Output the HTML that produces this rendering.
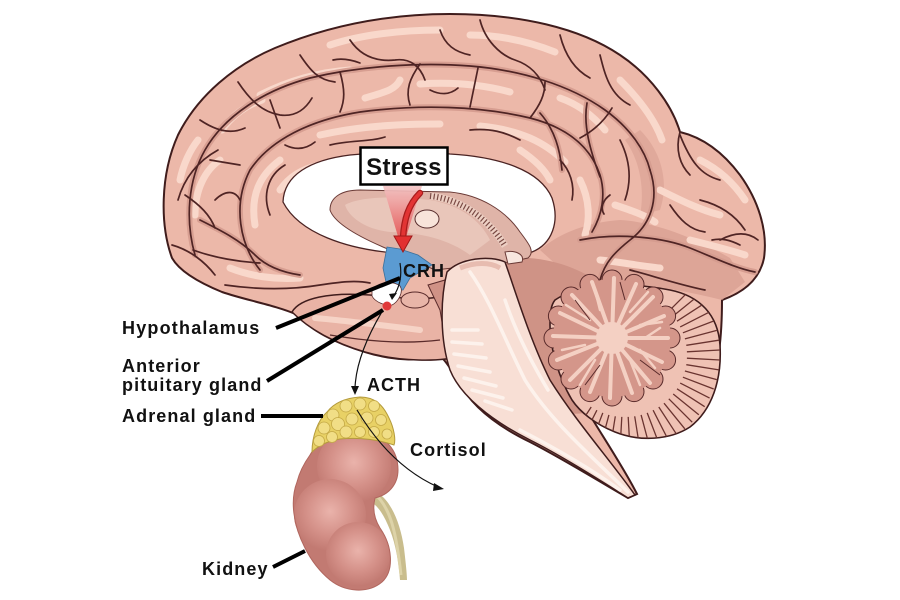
<!DOCTYPE html>
<html><head><meta charset="utf-8"><style>
html,body{margin:0;padding:0;background:#fff;}
svg{display:block;}
text{font-family:"Liberation Sans",Arial,sans-serif;font-weight:bold;fill:#111;}
</style></head><body>
<svg width="900" height="600" viewBox="0 0 900 600" xmlns="http://www.w3.org/2000/svg">
<defs>
<linearGradient id="stressG" x1="0" y1="0" x2="0" y2="1">
<stop offset="0" stop-color="#f4c4c4" stop-opacity="0.9"/>
<stop offset="1" stop-color="#e03a3a" stop-opacity="0.95"/>
</linearGradient>
<radialGradient id="lobe" cx="0.5" cy="0.45" r="0.55">
<stop offset="0" stop-color="#eab3ab"/>
<stop offset="0.6" stop-color="#d49088"/>
<stop offset="1" stop-color="#c27a72"/>
</radialGradient>
<clipPath id="cbClip"><path d="M 555,300 C 580,283 630,282 670,290 C 700,296 718,315 720,345 C 722,380 712,410 690,427 C 670,440 640,442 615,432 C 595,424 580,412 572,400 C 560,380 550,350 550,325 C 550,312 551,305 555,300 Z"/></clipPath>
</defs>

<!-- brain silhouette -->
<path d="M 172,258 C 160,225 160,175 178,135 C 198,95 235,65 275,48 C 330,25 390,14 450,14 C 520,14 580,28 620,55 C 650,75 672,105 680,132 C 705,138 725,155 740,175 C 758,200 768,230 764,258 C 760,278 745,292 722,300 C 722,330 720,370 705,405 C 690,428 665,438 640,436 C 615,433 598,420 588,412 C 605,440 625,470 637,494 L 628,498 C 600,482 565,460 530,442 C 495,425 470,405 458,380 C 450,368 445,360 440,356 C 420,362 390,360 365,352 C 335,343 310,330 298,315 C 275,305 245,300 222,292 C 200,283 180,272 172,258 Z" fill="#ecb8a9" stroke="#3f1c1c" stroke-width="2"/>

<!-- darker occipital / base shading -->
<path d="M 540,250 C 560,232 590,222 620,220 C 655,222 695,238 730,258 L 745,282 L 722,300 C 690,292 640,282 600,283 L 560,268 Z" fill="#dba194" opacity="0.85"/>
<path d="M 505,258 C 540,255 575,265 600,283 L 560,300 C 550,330 555,370 575,405 L 588,412 C 560,420 530,400 510,370 Z" fill="#cf9386"/>
<path d="M 640,130 C 660,150 670,180 660,210 L 640,215 C 645,190 640,160 625,140 Z" fill="#dca295" opacity="0.7"/>

<!-- gyri highlights -->
<g fill="none" stroke="#f9d8cb" stroke-width="7" stroke-linecap="round">
<path d="M 195,215 C 195,190 205,170 220,160"/>
<path d="M 260,95 C 290,80 320,72 350,70"/>
<path d="M 420,84 C 450,82 480,84 510,92"/>
<path d="M 560,98 C 580,105 595,118 605,130"/>
<path d="M 255,225 C 250,195 260,175 280,160"/>
<path d="M 320,135 C 360,126 400,124 440,124"/>
<path d="M 480,126 C 520,130 545,142 565,162"/>
<path d="M 660,190 C 680,200 700,210 720,215"/>
<path d="M 222,130 C 232,115 247,105 262,100"/>
<path d="M 470,35 C 500,35 530,42 555,52"/>
<path d="M 330,45 C 360,35 400,30 440,30"/>
<path d="M 690,240 C 710,245 730,250 745,255"/>
<path d="M 230,268 C 250,276 275,280 300,278"/>
<path d="M 180,180 C 183,165 190,150 198,140"/>
<path d="M 620,80 C 640,100 655,120 662,140"/>
<path d="M 700,160 C 720,170 735,185 745,200"/>
<path d="M 580,180 C 590,200 590,220 585,235"/>
<path d="M 280,190 C 290,175 305,168 320,165"/>
<path d="M 520,150 C 535,160 545,170 550,180"/>
<path d="M 365,98 C 385,92 395,90 400,80"/>
<path d="M 615,205 C 630,210 645,215 655,222"/>
<path d="M 600,260 C 620,262 640,266 660,268"/>
</g>

<!-- sulci shading -->
<g fill="none" stroke="#d59c8f" stroke-width="6" stroke-linecap="round" opacity="0.9">
<path d="M 260,270 C 240,245 232,205 250,170 C 270,140 310,120 360,112 C 420,104 480,106 530,118 C 565,127 590,145 600,175 C 606,195 602,215 592,232"/>
<path d="M 195,255 C 185,220 188,180 205,150 C 225,115 265,90 310,78 C 360,66 420,62 470,66 C 520,70 570,85 605,110 C 630,128 645,150 650,170"/>
<path d="M 650,170 C 660,200 650,225 630,240 C 615,252 605,262 600,280"/>
<path d="M 580,240 C 620,232 665,238 690,248 C 715,258 735,268 755,272"/>
<path d="M 200,220 C 220,230 240,240 255,255 C 265,265 280,272 300,275"/>
<path d="M 540,113 C 555,130 560,150 562,170"/>
<path d="M 587,103 C 583,125 590,150 600,177"/>
</g>

<!-- sulci lines -->
<g fill="none" stroke="#4f2424" stroke-width="1.7" stroke-linecap="round">
<path d="M 178,200 C 185,175 200,160 218,150"/>
<path d="M 200,120 C 215,130 230,135 245,128"/>
<path d="M 238,82 C 250,100 262,112 280,115 C 295,117 305,110 312,98"/>
<path d="M 300,55 C 310,70 318,80 335,82"/>
<path d="M 350,40 C 360,55 375,62 395,60 C 410,58 420,66 425,80"/>
<path d="M 440,30 C 445,45 455,52 470,55"/>
<path d="M 480,20 C 485,40 500,55 515,60 C 530,65 540,75 545,90"/>
<path d="M 560,35 C 565,55 575,70 590,78"/>
<path d="M 600,55 C 605,75 610,95 630,105"/>
<path d="M 260,270 C 240,245 232,205 250,170 C 270,140 310,120 360,112 C 420,104 480,106 530,118 C 565,127 590,145 600,175 C 606,195 602,215 592,232"/>
<path d="M 195,255 C 185,220 188,180 205,150 C 225,115 265,90 310,78 C 360,66 420,62 470,66 C 520,70 570,85 605,110 C 630,128 645,150 650,170"/>
<path d="M 215,200 C 225,190 235,190 240,200"/>
<path d="M 240,165 L 210,160"/>
<path d="M 280,128 L 270,100"/>
<path d="M 340,112 C 345,100 345,90 340,72"/>
<path d="M 410,105 C 405,90 410,78 420,64"/>
<path d="M 470,107 L 478,68"/>
<path d="M 530,118 C 540,105 545,95 545,82"/>
<path d="M 580,138 C 595,130 605,120 612,108"/>
<path d="M 270,215 C 262,195 268,175 285,165"/>
<path d="M 330,145 C 350,140 370,142 385,137"/>
<path d="M 470,130 C 490,128 505,132 520,140"/>
<path d="M 560,160 C 570,170 575,185 572,200"/>
<path d="M 650,170 C 660,200 650,225 630,240 C 615,252 605,262 600,280"/>
<path d="M 680,135 C 690,160 700,175 720,180"/>
<path d="M 700,200 C 720,205 735,215 745,230"/>
<path d="M 580,240 C 620,232 665,238 690,248 C 715,258 735,268 755,272"/>
<path d="M 670,205 C 680,220 690,230 705,232"/>
<path d="M 630,270 C 650,275 680,285 705,290"/>
<path d="M 620,140 C 630,160 632,180 625,200"/>
<path d="M 172,245 C 190,250 205,262 215,275"/>
<path d="M 200,220 C 220,230 240,240 255,255 C 265,265 280,272 300,275"/>
<path d="M 225,285 C 260,290 290,290 320,285 C 340,282 355,280 370,283"/>
<path d="M 185,195 C 200,205 210,215 215,228"/>
<path d="M 680,132 C 675,150 680,165 690,175"/>
<path d="M 720,240 C 735,232 748,232 758,240"/>
<path d="M 285,145 C 295,150 305,150 315,142"/>
<path d="M 430,90 C 440,95 450,95 458,88"/>
<path d="M 333,60 C 342,58 352,60 360,63"/>
<path d="M 540,113 C 555,130 560,150 562,170"/>
<path d="M 587,103 C 583,125 590,150 600,177"/>
<path d="M 610,195 C 603,200 600,208 604,214"/>
<path d="M 740,245 C 730,240 722,238 712,240"/>
<path d="M 193,250 C 215,258 240,262 260,263"/>
</g>

<!-- white corpus callosum C -->
<path d="M 283,202 C 284,175 310,160 350,155 C 390,151 420,151 450,154 C 500,157 540,170 552,198 C 560,222 552,244 532,252 L 480,255 L 385,252 C 350,248 300,235 283,202 Z" fill="#ffffff" stroke="#4a2222" stroke-width="1.3"/>

<!-- diencephalon -->
<path d="M 330,210 C 330,197 342,190 360,190 L 450,192 C 480,195 505,210 520,232 C 530,245 535,252 528,258 L 510,262 L 470,266 L 435,270 L 395,252 C 365,240 335,225 330,210 Z" fill="#dfb4a8" stroke="#6a3a36" stroke-width="1"/>
<path d="M 345,205 C 360,196 400,196 430,200 C 460,205 480,220 490,240 L 470,255 C 450,240 420,232 390,232 C 370,230 350,220 345,205 Z" fill="#e9c6ba"/>
<ellipse cx="427" cy="219" rx="12" ry="9" fill="#f8e4da" stroke="#5a3030" stroke-width="1"/>
<path d="M 430,196 C 460,199 488,218 505,246" fill="none" stroke="#edd0c4" stroke-width="7"/>
<path d="M 430,196 C 460,199 488,218 505,246" fill="none" stroke="#7a4a44" stroke-width="6" stroke-dasharray="1.2 2.4"/>
<path d="M 505,252 C 515,250 525,254 522,262 L 508,264 Z" fill="#f8e6de" stroke="#6a3a36" stroke-width="1"/>

<!-- temporal lobe -->
<path d="M 292,312 C 300,298 330,292 370,295 C 400,298 420,300 440,297 C 455,310 465,335 462,356 C 440,362 400,362 365,352 C 335,343 310,330 292,312 Z" fill="#e9b3a5" stroke="#3f1c1c" stroke-width="1.5"/>
<path d="M 315,318 C 340,320 380,325 420,330" fill="none" stroke="#f6d3c6" stroke-width="6" stroke-linecap="round"/>
<path d="M 330,335 C 360,340 400,345 440,340" fill="none" stroke="#5a2b2b" stroke-width="1.3"/>
<path d="M 428,285 L 445,280 L 465,300 L 470,340 L 460,356 L 445,340 L 440,310 Z" fill="#d09286" stroke="#5a2b2b" stroke-width="1"/>
<ellipse cx="415" cy="300" rx="14" ry="8" fill="#e8b5a8" stroke="#5a2b2b" stroke-width="1"/>

<!-- cerebellum -->
<path d="M 555,300 C 580,283 630,282 670,290 C 700,296 718,315 720,345 C 722,380 712,410 690,427 C 670,440 640,442 615,432 C 595,424 580,412 572,400 C 560,380 550,350 550,325 C 550,312 551,305 555,300 Z" fill="#efc2b4" stroke="#3f1c1c" stroke-width="1.6"/>
<g clip-path="url(#cbClip)" stroke="#6a3430" stroke-width="1.3" fill="none">
<path d="M668.8,311.2L692.2,287.8M673.2,316L698.8,295.2M677,321.2L704.7,303.2M680.2,326.9L709.6,311.9M682.9,332.8L713.7,321M684.9,338.9L716.8,330.4M686.3,345.3L718.9,340.2M686.9,351.8L719.9,350M686.9,358.2L719.9,360M686.3,364.7L718.9,369.9M684.9,371L716.8,379.6M682.9,377.2L713.7,389M680.2,383.1L709.6,398.1M677,388.8L704.7,406.7M673.2,394L698.8,414.8M668.8,398.8L692.2,422.2M664,403.2L684.8,428.8M658.8,407L676.8,434.7M653.1,410.2L668.1,439.6M647.2,412.9L659,443.7M641.1,414.9L649.6,446.8M634.7,416.3L639.9,448.9M628.2,416.9L630,449.9M621.8,416.9L620,449.9M615.3,416.3L610.1,448.9M608.9,414.9L600.4,446.8M602.8,412.9L591,443.7M596.9,410.2L581.9,439.6M591.2,407L573.2,434.7"/>
</g>
<!-- arbor vitae -->
<g fill="#d4968a" stroke="#5a2b2b" stroke-width="1">
<circle cx="670" cy="338" r="10"/><circle cx="665.6" cy="360" r="10"/><circle cx="653" cy="379" r="10"/><circle cx="634" cy="391.6" r="10"/>
<circle cx="612" cy="396" r="10"/><circle cx="590" cy="391.6" r="10"/><circle cx="571" cy="379" r="10"/><circle cx="558.4" cy="360" r="10"/>
<circle cx="554" cy="338" r="10"/><circle cx="558.4" cy="316" r="10"/><circle cx="571" cy="297" r="10"/><circle cx="590" cy="284.4" r="10"/>
<circle cx="612" cy="280" r="10"/><circle cx="634" cy="284.4" r="10"/><circle cx="653" cy="297" r="10"/><circle cx="665.6" cy="316" r="10"/>
</g>
<circle cx="612" cy="338" r="59" fill="#d4968a"/>
<g stroke="#f4d0c3" stroke-width="4" stroke-linecap="round" fill="none">
<path d="M612,338 L668,338 M612,338 L662,362 M612,338 L650,383 M612,338 L632,393 M612,338 L610,398 M612,338 L590,392 M612,338 L570,380 M612,338 L557,360 M612,338 L553,336 M612,338 L560,313 M612,338 L572,295 M612,338 L592,282 M612,338 L614,278 M612,338 L636,284 M612,338 L653,297 M612,338 L664,316"/>
</g>
<g stroke="#f4d0c3" stroke-width="2.5" stroke-linecap="round" fill="none">
<path d="M645,338 L660,328 M640,350 L655,368 M630,360 L640,385 M595,360 L580,385 M585,345 L562,350 M590,320 L566,305 M600,310 L595,290 M630,312 L648,292 M640,325 L662,322"/>
</g>
<circle cx="612" cy="338" r="16" fill="#f4d0c3"/>
<path d="M 620,282 L 625,300 M 575,300 L 590,320 M 660,375 L 640,360 M 585,385 L 600,365" stroke="#5a2b2b" stroke-width="1" fill="none"/>

<!-- brainstem -->
<path d="M 447,272 C 460,258 490,255 505,262 C 515,290 530,340 550,380 C 575,420 610,460 635,495 L 628,498 C 600,480 560,455 530,440 C 490,420 460,395 450,370 C 440,340 440,300 447,272 Z" fill="#f8dfd5" stroke="#3f1c1c" stroke-width="1.5"/>
<g fill="none" stroke="#fdf2ec" stroke-width="3.5" stroke-linecap="round">
<path d="M 470,272 C 490,300 505,340 525,380 C 550,420 590,455 628,492"/>
<path d="M 452,330 L 478,330 M 452,342 L 482,344 M 454,354 L 486,358 M 458,366 L 490,372 M 464,378 L 496,386 M 472,390 L 503,398 M 485,401 L 512,410"/>
<path d="M 520,430 C 555,448 590,468 620,490"/>
<path d="M 505,300 C 515,330 530,360 548,390"/>
</g>
<path d="M 460,268 C 475,262 490,262 500,268" fill="none" stroke="#e7bcb0" stroke-width="5"/>

<!-- stress gradient -->
<polygon points="383,186 422,186 402,250" fill="url(#stressG)"/>
<path d="M 420,193 C 408,205 404,220 403,238" fill="none" stroke="#a81c1c" stroke-width="6.5" stroke-linecap="round"/>
<path d="M 420,193 C 408,205 404,220 403,238" fill="none" stroke="#e23434" stroke-width="4" stroke-linecap="round"/>

<!-- hypothalamus blue -->
<polygon points="387,247 400,249 418,255 432,265 420,272 410,278 403,290 395,290 386,282 383,268" fill="#5b9bd2" stroke="#3d6f99" stroke-width="0.8"/>
<polygon points="394,236 412,236 403,252" fill="#e23030" stroke="#a01818" stroke-width="1"/>

<!-- pituitary -->
<path d="M 372,290 C 378,282 392,280 400,286 C 404,292 398,302 392,305 C 385,306 375,302 372,296 Z" fill="#ffffff" stroke="#5a2b2b" stroke-width="0.8"/>
<circle cx="387" cy="306" r="4.5" fill="#e03a3a"/>
<path d="M 400,263 C 402,275 400,287 393,297" fill="none" stroke="#111" stroke-width="1.2"/>
<polygon points="389,294 397,293 392,300" fill="#111"/>

<!-- ureter -->
<path d="M 370,490 C 388,493 400,520 404,548 C 406,565 407,575 407,580 L 400,580 C 399,565 396,545 390,530 C 384,515 378,505 368,500 Z" fill="#c9bd8d"/>
<path d="M 378,497 C 390,510 396,530 401,575" fill="none" stroke="#ddd3a8" stroke-width="3"/>

<!-- kidney -->
<path d="M 310,455 C 318,440 340,432 365,433 C 385,435 398,450 398,470 C 398,485 388,495 375,498 C 372,510 375,520 380,528 C 392,545 395,570 382,582 C 368,594 345,592 330,580 C 318,570 310,558 305,548 C 293,525 290,500 297,482 C 300,470 305,462 310,455 Z" fill="#c27a72"/>
<circle cx="354" cy="466" r="37" fill="url(#lobe)"/>
<circle cx="330" cy="515" r="36" fill="url(#lobe)"/>
<circle cx="358" cy="554" r="32" fill="url(#lobe)"/>
<path d="M 310,455 C 318,440 340,432 365,433 C 385,435 398,450 398,470 C 398,485 388,495 375,498 C 372,510 375,520 380,528 C 392,545 395,570 382,582 C 368,594 345,592 330,580 C 318,570 310,558 305,548 C 293,525 290,500 297,482 C 300,470 305,462 310,455 Z" fill="none" stroke="#b0665e" stroke-width="1"/>

<!-- adrenal -->
<path d="M 312,452 C 312,436 318,420 327,412 C 334,403 345,398 360,397 C 375,397 383,405 389,418 C 394,428 396,440 394,445 C 380,440 360,437 340,439 C 328,441 318,446 312,452 Z" fill="#e8d165" stroke="#b39a3c" stroke-width="1"/>
<g fill="#f1de86" stroke="#c4a946" stroke-width="0.8">
<circle cx="333" cy="415" r="6"/><circle cx="346" cy="406" r="6"/><circle cx="360" cy="404" r="6"/><circle cx="374" cy="406" r="5.5"/>
<circle cx="324" cy="428" r="6"/><circle cx="338" cy="424" r="6.5"/><circle cx="352" cy="419" r="6"/><circle cx="367" cy="418" r="6"/><circle cx="381" cy="420" r="5.5"/>
<circle cx="319" cy="441" r="5.5"/><circle cx="332" cy="437" r="5.5"/><circle cx="346" cy="432" r="6"/><circle cx="360" cy="432" r="5.5"/><circle cx="374" cy="432" r="5.5"/><circle cx="387" cy="434" r="5"/>
</g>

<!-- thin arrows -->
<path d="M 383,310 C 368,335 356,362 355,388" fill="none" stroke="#111" stroke-width="1.2"/>
<polygon points="351,386 359,386 355,395" fill="#111"/>
<path d="M 357,410 C 375,440 400,470 438,487" fill="none" stroke="#111" stroke-width="1.2"/>
<polygon points="434,483 444,489 433,491" fill="#111"/>

<!-- label lines -->
<g stroke="#000" stroke-width="4" stroke-linecap="butt">
<line x1="276" y1="328" x2="400" y2="278"/>
<line x1="267" y1="381" x2="383" y2="310"/>
<line x1="261" y1="416" x2="323" y2="416"/>
<line x1="273" y1="567" x2="305" y2="551"/>
</g>

<!-- Stress box -->
<rect x="360.5" y="147.5" width="87" height="37" fill="#fff" stroke="#000" stroke-width="2.5"/>
<text x="404" y="175" font-size="24" text-anchor="middle" letter-spacing="0.4">Stress</text>
<text x="403" y="277" font-size="18" letter-spacing="1">CRH</text>
<text x="122" y="334" font-size="18" letter-spacing="1.2">Hypothalamus</text>
<text x="122" y="372" font-size="18" letter-spacing="1.1">Anterior</text>
<text x="122" y="391" font-size="18" letter-spacing="1.1">pituitary gland</text>
<text x="367" y="391" font-size="18" letter-spacing="1">ACTH</text>
<text x="122" y="422" font-size="18" letter-spacing="1.1">Adrenal gland</text>
<text x="410" y="456" font-size="18" letter-spacing="1.1">Cortisol</text>
<text x="202" y="575" font-size="18" letter-spacing="1.1">Kidney</text>
</svg>
</body></html>
